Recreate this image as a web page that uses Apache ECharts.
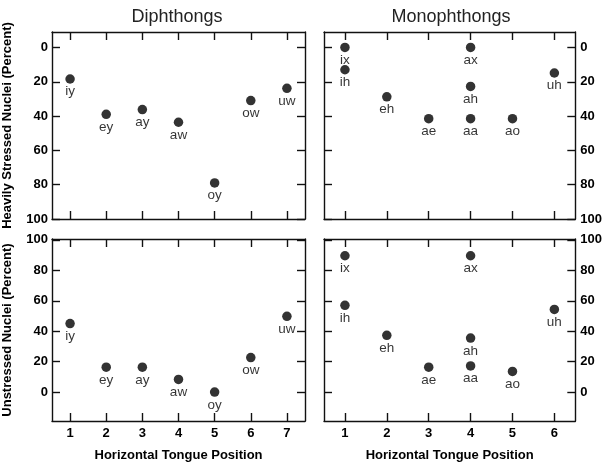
<!DOCTYPE html>
<html><head><meta charset="utf-8">
<script src="https://cdn.jsdelivr.net/npm/echarts@6/dist/echarts.min.js"></script>
<style>html,body{margin:0;padding:0;background:#fff}#c{width:605px;height:463px}</style>
</head><body><div id="c"></div>
<script>
var diphLabels = ['iy','ey','ay','aw','oy','ow','uw'];
var diphX = [1,2,3,4,5,6,7];
var diphStressed = [18.4,39,36.2,43.6,79,31,23.8];
var diphUnstressed = [45,16.4,16.4,8.3,0,22.7,49.8];
var monoLabels = ['ix','ih','eh','ae','ax','ah','aa','ao','uh'];
var monoX = [1,1,2,3,4,4,4,5,6];
var monoStressed = [0,13,28.8,41.5,0,22.7,41.5,41.5,14.9];
var monoUnstressed = [89.6,57,37.3,16.4,89.6,35.5,17.2,13.6,54.3];
var diphTicks = [1,2,3,4,5,6,7];
var monoTicks = [1,2,3,4,5,6];
var yTicks = [0,20,40,60,80,100];

var FONT = "'Liberation Sans', Arial, Helvetica, sans-serif";
var grids = [
  {left:51, top:32, width:254, height:187},
  {left:324, top:32, width:254, height:187},
  {left:51, top:239, width:254, height:187},
  {left:324, top:239, width:254, height:187}
];
var lineStyle = {color:'#111', width:1.4};
function xAx(gi, pos, ticks, max, showLabel, name) {
  return {
    type:'value', gridIndex:gi, position:pos, min:0.5, max:max,
    axisLine:{show:true, onZero:false, lineStyle:lineStyle},
    axisTick:{show:true, inside:true, length:8, lineStyle:lineStyle, customValues:ticks},
    axisLabel:{show:showLabel, customValues:ticks, color:'#000', fontFamily:FONT, fontWeight:'bold', fontSize:13, margin:6},
    splitLine:{show:false},
    name:name||'', nameLocation:'middle', nameGap:28,
    nameTextStyle:{color:'#000', fontFamily:FONT, fontWeight:'bold', fontSize:13}
  };
}
function yAx(gi, pos, inverse, min, max, showLabel, name) {
  return {
    type:'value', gridIndex:gi, position:pos, inverse:inverse, min:min, max:max,
    axisLine:{show:true, onZero:false, lineStyle:lineStyle},
    axisTick:{show:true, inside:true, length:8, lineStyle:lineStyle, customValues:yTicks},
    axisLabel:{show:showLabel, customValues:yTicks, color:'#000', fontFamily:FONT, fontWeight:'bold', fontSize:13, margin: pos==='left'?4:5},
    splitLine:{show:false},
    name:name||'', nameLocation:'middle', nameGap:38,
    nameTextStyle:{color:'#000', fontFamily:FONT, fontWeight:'bold', fontSize:13}
  };
}
var xAxes = [
  xAx(0,'bottom',diphTicks,7.5,false), xAx(0,'top',diphTicks,7.5,false),
  xAx(1,'bottom',monoTicks,6.5,false), xAx(1,'top',monoTicks,6.5,false),
  xAx(2,'bottom',diphTicks,7.5,true,'Horizontal Tongue Position'), xAx(2,'top',diphTicks,7.5,false),
  xAx(3,'bottom',monoTicks,6.5,true,'Horizontal Tongue Position'), xAx(3,'top',monoTicks,6.5,false)
];
var yAxes = [
  yAx(0,'left',true,-9,100,true,'Heavily Stressed Nuclei (Percent)'), yAx(0,'right',true,-9,100,false),
  yAx(1,'left',true,-9,100,false), yAx(1,'right',true,-9,100,true),
  yAx(2,'left',false,-19,100.6,true,'Unstressed Nuclei (Percent)'), yAx(2,'right',false,-19,100.6,false),
  yAx(3,'left',false,-19,100.6,false), yAx(3,'right',false,-19,100.6,true)
];
function mk(labels, xs, ys) {
  return labels.map(function(l,i){ return {name:l, value:[xs[i], ys[i]]}; });
}
function ser(idx, data) {
  return {
    type:'scatter', xAxisIndex:idx*2, yAxisIndex:idx*2, data:data,
    symbol:'circle', symbolSize:9.5, itemStyle:{color:'#000'},
    label:{show:true, position:'bottom', distance:1, formatter:'{b}', color:'#000', fontFamily:FONT, fontSize:13.5},
    emphasis:{disabled:true}, silent:true
  };
}
var chart = echarts.init(document.getElementById('c'), null, {renderer:'canvas'});
chart.setOption({
  animation:false,
  backgroundColor:'#fff',
  grid:grids,
  xAxis:xAxes,
  yAxis:yAxes,
  graphic:[
    {type:'text', x:177, y:17, style:{text:'Diphthongs', fill:'#222', font:"18px "+FONT, align:'center', verticalAlign:'middle'}},
    {type:'text', x:451, y:17, style:{text:'Monophthongs', fill:'#222', font:"18px "+FONT, align:'center', verticalAlign:'middle'}}
  ],
  series:[
    ser(0, mk(diphLabels, diphX, diphStressed)),
    ser(1, mk(monoLabels, monoX, monoStressed)),
    ser(2, mk(diphLabels, diphX, diphUnstressed)),
    ser(3, mk(monoLabels, monoX, monoUnstressed))
  ]
});
</script></body></html>
